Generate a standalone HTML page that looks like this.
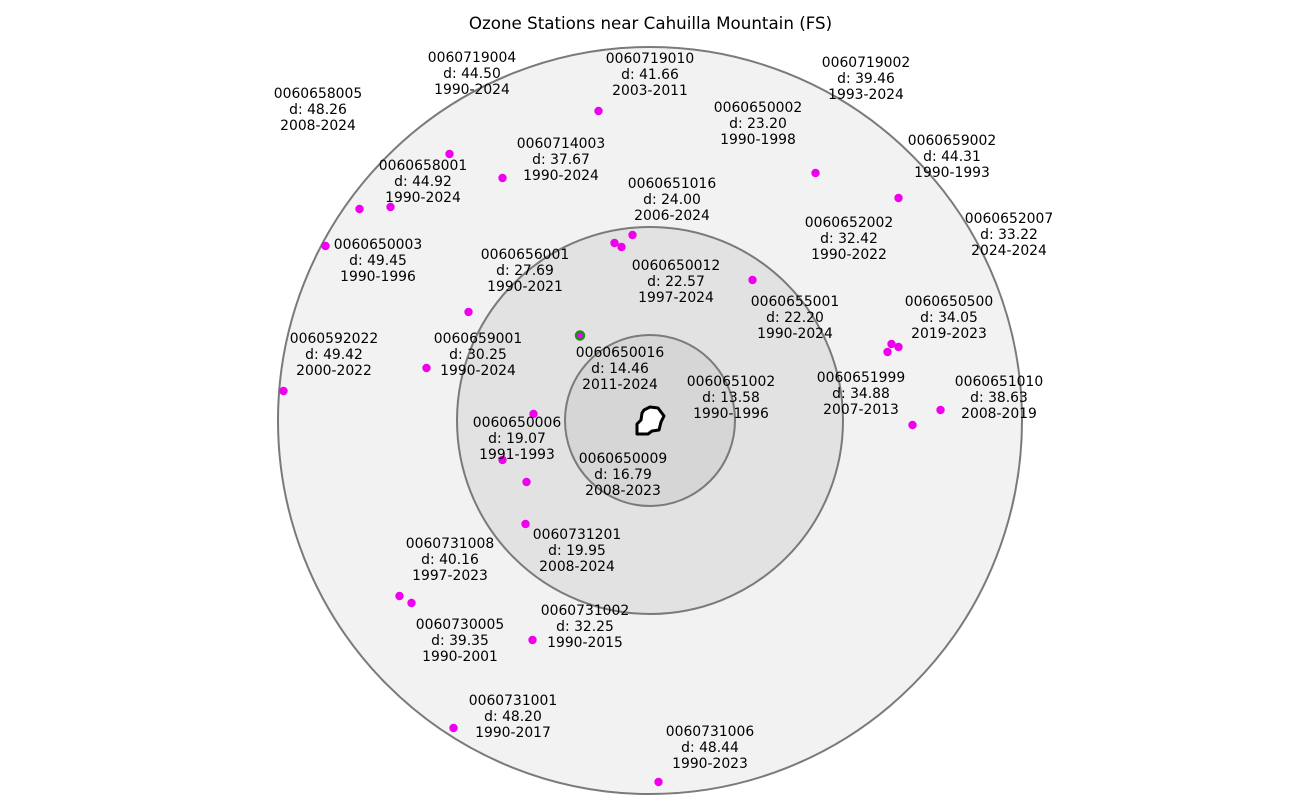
<!DOCTYPE html>
<html><head><meta charset="utf-8"><style>
html,body{margin:0;padding:0;background:#fff;width:1300px;height:802px;overflow:hidden}
text{font-family:"DejaVu Sans","Liberation Sans",sans-serif;font-size:13.9px;fill:#000;text-anchor:middle}
</style></head><body>
<svg width="1300" height="802" xmlns="http://www.w3.org/2000/svg">
<text x="650.5" y="29" style="font-size:16.7px">Ozone Stations near Cahuilla Mountain (FS)</text>
<ellipse cx="650" cy="420.5" rx="372" ry="373.5" fill="#f2f2f2" stroke="#7a7a7a" stroke-width="2"/>
<ellipse cx="650" cy="420.5" rx="193" ry="193.5" fill="#e2e2e2" stroke="#7a7a7a" stroke-width="2"/>
<ellipse cx="650" cy="420.5" rx="85" ry="85.5" fill="#d6d6d6" stroke="#7a7a7a" stroke-width="2"/>
<path d="M644,410 L650,407 L658,408 L664,416 L661,422 L659,430 L652,431 L648,434 L637,434 L637,424 L641,420 L642,413 Z" fill="#fff" stroke="#000" stroke-width="3" stroke-linejoin="round"/>
<g fill="#ee00ee" transform="translate(0.5,0)">
<circle cx="598" cy="111" r="4.2"/><circle cx="449" cy="154" r="4.2"/><circle cx="502" cy="178" r="4.2"/>
<circle cx="359" cy="209" r="4.2"/><circle cx="390" cy="207" r="4.2"/><circle cx="325" cy="246" r="4.2"/>
<circle cx="815" cy="173" r="4.2"/><circle cx="898" cy="198" r="4.2"/><circle cx="632" cy="235" r="4.2"/>
<circle cx="614" cy="243" r="4.2"/><circle cx="621" cy="247" r="4.2"/><circle cx="752" cy="280" r="4.2"/>
<circle cx="468" cy="312" r="4.2"/><circle cx="426" cy="368" r="4.2"/><circle cx="283" cy="391" r="4.2"/>
<circle cx="891" cy="344" r="4.2"/><circle cx="898" cy="347" r="4.2"/><circle cx="887" cy="352" r="4.2"/>
<circle cx="940" cy="410" r="4.2"/><circle cx="912" cy="425" r="4.2"/><circle cx="533" cy="414" r="4.2"/>
<circle cx="502" cy="460" r="4.2"/><circle cx="526" cy="482" r="4.2"/><circle cx="525" cy="524" r="4.2"/>
<circle cx="399" cy="596" r="4.2"/><circle cx="411" cy="603" r="4.2"/><circle cx="532" cy="640" r="4.2"/>
<circle cx="453" cy="728" r="4.2"/><circle cx="658" cy="782" r="4.2"/>
<circle cx="579.5" cy="335.5" r="4" stroke="#228b22" stroke-width="2.5"/>
</g>
<g>
<text x="472" y="62">0060719004<tspan x="472" dy="16">d: 44.50</tspan><tspan x="472" dy="16">1990-2024</tspan></text>
<text x="650" y="63">0060719010<tspan x="650" dy="16">d: 41.66</tspan><tspan x="650" dy="16">2003-2011</tspan></text>
<text x="866" y="67">0060719002<tspan x="866" dy="16">d: 39.46</tspan><tspan x="866" dy="16">1993-2024</tspan></text>
<text x="318" y="98">0060658005<tspan x="318" dy="16">d: 48.26</tspan><tspan x="318" dy="16">2008-2024</tspan></text>
<text x="758" y="112">0060650002<tspan x="758" dy="16">d: 23.20</tspan><tspan x="758" dy="16">1990-1998</tspan></text>
<text x="952" y="145">0060659002<tspan x="952" dy="16">d: 44.31</tspan><tspan x="952" dy="16">1990-1993</tspan></text>
<text x="561" y="148">0060714003<tspan x="561" dy="16">d: 37.67</tspan><tspan x="561" dy="16">1990-2024</tspan></text>
<text x="423" y="170">0060658001<tspan x="423" dy="16">d: 44.92</tspan><tspan x="423" dy="16">1990-2024</tspan></text>
<text x="672" y="188">0060651016<tspan x="672" dy="16">d: 24.00</tspan><tspan x="672" dy="16">2006-2024</tspan></text>
<text x="849" y="227">0060652002<tspan x="849" dy="16">d: 32.42</tspan><tspan x="849" dy="16">1990-2022</tspan></text>
<text x="1009" y="223">0060652007<tspan x="1009" dy="16">d: 33.22</tspan><tspan x="1009" dy="16">2024-2024</tspan></text>
<text x="525" y="259">0060656001<tspan x="525" dy="16">d: 27.69</tspan><tspan x="525" dy="16">1990-2021</tspan></text>
<text x="378" y="249">0060650003<tspan x="378" dy="16">d: 49.45</tspan><tspan x="378" dy="16">1990-1996</tspan></text>
<text x="676" y="270">0060650012<tspan x="676" dy="16">d: 22.57</tspan><tspan x="676" dy="16">1997-2024</tspan></text>
<text x="795" y="306">0060655001<tspan x="795" dy="16">d: 22.20</tspan><tspan x="795" dy="16">1990-2024</tspan></text>
<text x="949" y="306">0060650500<tspan x="949" dy="16">d: 34.05</tspan><tspan x="949" dy="16">2019-2023</tspan></text>
<text x="334" y="343">0060592022<tspan x="334" dy="16">d: 49.42</tspan><tspan x="334" dy="16">2000-2022</tspan></text>
<text x="478" y="343">0060659001<tspan x="478" dy="16">d: 30.25</tspan><tspan x="478" dy="16">1990-2024</tspan></text>
<text x="620" y="357">0060650016<tspan x="620" dy="16">d: 14.46</tspan><tspan x="620" dy="16">2011-2024</tspan></text>
<text x="731" y="386">0060651002<tspan x="731" dy="16">d: 13.58</tspan><tspan x="731" dy="16">1990-1996</tspan></text>
<text x="861" y="382">0060651999<tspan x="861" dy="16">d: 34.88</tspan><tspan x="861" dy="16">2007-2013</tspan></text>
<text x="999" y="386">0060651010<tspan x="999" dy="16">d: 38.63</tspan><tspan x="999" dy="16">2008-2019</tspan></text>
<text x="517" y="427">0060650006<tspan x="517" dy="16">d: 19.07</tspan><tspan x="517" dy="16">1991-1993</tspan></text>
<text x="623" y="463">0060650009<tspan x="623" dy="16">d: 16.79</tspan><tspan x="623" dy="16">2008-2023</tspan></text>
<text x="577" y="539">0060731201<tspan x="577" dy="16">d: 19.95</tspan><tspan x="577" dy="16">2008-2024</tspan></text>
<text x="450" y="548">0060731008<tspan x="450" dy="16">d: 40.16</tspan><tspan x="450" dy="16">1997-2023</tspan></text>
<text x="585" y="615">0060731002<tspan x="585" dy="16">d: 32.25</tspan><tspan x="585" dy="16">1990-2015</tspan></text>
<text x="460" y="629">0060730005<tspan x="460" dy="16">d: 39.35</tspan><tspan x="460" dy="16">1990-2001</tspan></text>
<text x="513" y="705">0060731001<tspan x="513" dy="16">d: 48.20</tspan><tspan x="513" dy="16">1990-2017</tspan></text>
<text x="710" y="736">0060731006<tspan x="710" dy="16">d: 48.44</tspan><tspan x="710" dy="16">1990-2023</tspan></text>
</g>
</svg>
</body></html>
